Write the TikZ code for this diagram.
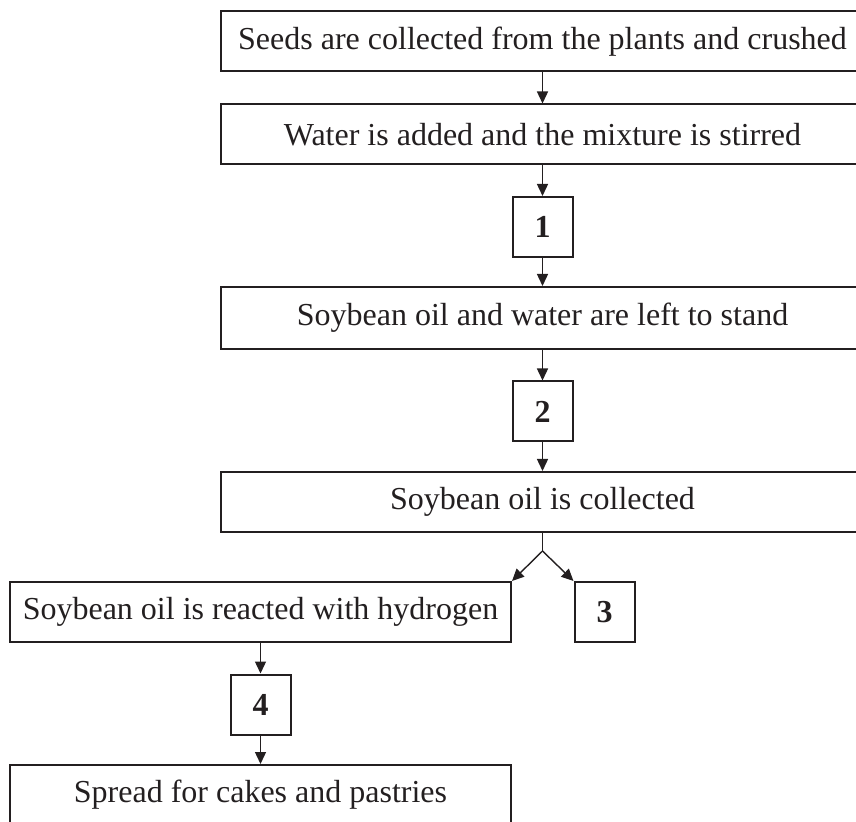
\documentclass[tikz,border=0pt]{standalone}
\usepackage{fontspec}
\setmainfont{Liberation Serif}
\usetikzlibrary{positioning, arrows.meta}
\definecolor{inkgray}{RGB}{35,31,32}

\tikzset{
	stage/.style={draw, line width=1pt, inner sep=0pt, minimum height=30pt, font=\fontsize{16}{19}\selectfont},
	numbox/.style={draw, line width=1pt, inner sep=0pt, minimum width=30pt, minimum height=30pt, font=\fontsize{16}{19}\selectfont\bfseries}
}

\begin{document}
\begin{tikzpicture}[x=0.5pt, y=-0.5pt, >={Triangle[length=6pt,width=5.5pt]}, line width=0.7pt, color=inkgray]
			\clip (0,0) rectangle (856,822);
			\node[stage, minimum width=321.5pt] (seeds) at (542.5,41.5) {Seeds are collected from the plants and crushed};
			\node[stage, minimum width=321.5pt] (water) at (542.5,134.5) {Water is added and the mixture is stirred};
			\node[numbox] (one) at (542.5,227) {1};
			\node[stage, minimum width=321.5pt, minimum height=31pt] (stand) at (542.5,318) {Soybean oil and water are left to stand};
			\node[numbox] (two) at (542.5,411.5) {2};
			\node[stage, minimum width=321.5pt] (oil) at (542.5,502) {Soybean oil is collected};
			\coordinate (fork) at (542.5,551);
			\node[stage, minimum width=250.5pt] (hydro) at (260.5,612) {Soybean oil is reacted with hydrogen};
			\node[numbox] (three) at (604.5,612) {3};
			\node[numbox] (four) at (260.5,704.5) {4};
			\node[stage, minimum width=250.5pt] (spread) at (260.5,795) {Spread for cakes and pastries};
			\draw[->] (seeds) -- (water);
			\draw[->] (water) -- (one);
			\draw[->] (one) -- (stand);
			\draw[->] (stand) -- (two);
			\draw[->] (two) -- (oil);
			\draw (oil) -- (fork);
			\draw[->] (fork) -- (hydro.north east);
			\draw[->] (fork) -- (three.north west);
			\draw[->] (hydro) -- (four);
			\draw[->] (four) -- (spread);
		\end{tikzpicture}
\end{document}
